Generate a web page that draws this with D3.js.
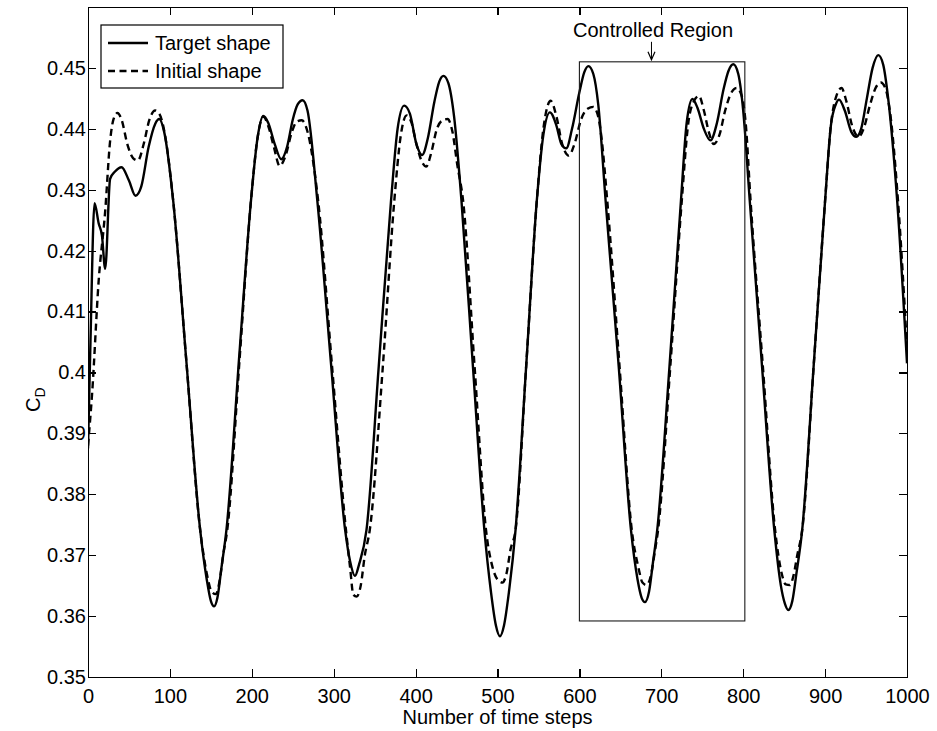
<!DOCTYPE html>
<html lang="en">
<head>
  <meta charset="UTF-8">
  <title>Drag coefficient vs time steps</title>
  <script src="https://d3js.org/d3.v7.min.js"></script>
  <style>
    body {
      margin: 0;
      background: #ffffff;
      font-family: "Liberation Sans", Arial, sans-serif;
    }
    .axis path,
    .axis line {
      stroke: #000;
      stroke-width: 1.2;
      shape-rendering: crispEdges;
    }
    .axis text {
      font-size: 20px;
      fill: #000;
      font-family: "Liberation Sans", Arial, sans-serif;
    }
    .line {
      fill: none;
      stroke: #000;
      stroke-width: 2.4;
      stroke-linejoin: round;
    }
    .dashed {
      stroke-dasharray: 7 4.5;
    }
    .label {
      font-size: 20px;
      fill: #000;
    }
  </style>
</head>
<body>
  <svg width="937" height="731"></svg>

  <script>
    const width = 937;
    const height = 731;
    const margin = { top: 7, right: 30, bottom: 54, left: 88 };

    // Target shape (solid line)
    const targetSteps = [0, 3, 8, 13, 17, 21, 27, 33, 41, 50, 58, 65, 74, 82, 87, 93, 104, 120, 137, 145, 150, 154, 158, 163, 169,
      185, 199, 207, 214, 220, 228, 236, 243, 250, 256, 262, 268, 280, 297, 314, 320, 326, 331, 340, 355, 370, 378, 386,
      393, 401, 408, 415, 423, 429, 434, 440, 447, 456, 470, 484, 492, 498, 503, 508, 514, 522, 535, 548, 556, 564, 572,
      578, 584, 591, 600, 606, 611, 617, 623, 632, 648, 663, 671, 676, 680, 685, 690, 695, 710, 724, 731, 738, 744, 752,
      760, 768, 776, 782, 788, 794, 800, 808, 823, 838, 846, 851, 855, 860, 865, 872, 886, 900, 907, 913, 917, 924, 932,
      938, 944, 951, 958, 965, 971, 977, 988, 1000];
    const targetCd = [0.3875, 0.4050, 0.4278, 0.4245, 0.4225, 0.4170, 0.4318, 0.4330, 0.4337, 0.4315, 0.4290, 0.4305, 0.4370, 0.4408, 0.4416, 0.4395, 0.4282, 0.4020, 0.3741, 0.3660, 0.3625, 0.3616, 0.3630, 0.3680, 0.3741,
      0.4033, 0.4282, 0.4385, 0.4421, 0.4410, 0.4375, 0.4350, 0.4370, 0.4415, 0.4440, 0.4447, 0.4430, 0.4282, 0.4010, 0.3741, 0.3690, 0.3666, 0.3685, 0.3741, 0.4010, 0.4282, 0.4400, 0.4438,
      0.4425, 0.4375, 0.4357, 0.4385, 0.4445, 0.4478, 0.4487, 0.4475, 0.4420, 0.4282, 0.4010, 0.3741, 0.3640, 0.3585, 0.3567, 0.3585, 0.3640, 0.3741, 0.4010, 0.4282, 0.4390, 0.4427, 0.4405,
      0.4375, 0.4368, 0.4400, 0.4460, 0.4493, 0.4503, 0.4490, 0.4440, 0.4282, 0.4010, 0.3741, 0.3660, 0.3630, 0.3623, 0.3640, 0.3690, 0.3741, 0.4010, 0.4282, 0.4410, 0.4449, 0.4435, 0.4400,
      0.4381, 0.4410, 0.4465, 0.4495, 0.4506, 0.4490, 0.4430, 0.4282, 0.4010, 0.3741, 0.3650, 0.3620, 0.3610, 0.3625, 0.3670, 0.3741, 0.4010, 0.4282, 0.4405, 0.4440, 0.4448, 0.4430, 0.4395,
      0.4387, 0.4400, 0.4450, 0.4500, 0.4521, 0.4505, 0.4450, 0.4282, 0.4015];

    // Initial shape (dashed line)
    const initialSteps = [0, 5, 13, 21, 27, 31, 36, 41, 48, 55, 61, 68, 75, 82, 87, 94, 104, 120, 137, 145, 151, 156, 161, 165, 170,
      185, 199, 207, 214, 220, 227, 234, 241, 249, 255, 261, 267, 281, 298, 315, 320, 324, 328, 333, 338, 344, 360, 374,
      382, 389, 395, 401, 408, 413, 419, 426, 433, 439, 445, 451, 458, 472, 486, 494, 500, 506, 511, 516, 522, 535, 548,
      556, 565, 572, 579, 587, 594, 602, 610, 617, 623, 627, 634, 649, 664, 672, 677, 682, 687, 692, 696, 711, 725, 733,
      740, 746, 752, 758, 764, 771, 778, 785, 792, 798, 803, 809, 824, 839, 847, 852, 857, 862, 866, 872, 886, 900, 907,
      914, 920, 926, 933, 941, 947, 955, 962, 968, 974, 979, 989, 1000];
    const initialCd = [0.3880, 0.3965, 0.4150, 0.4265, 0.4380, 0.4415, 0.4426, 0.4415, 0.4375, 0.4352, 0.4348, 0.4375, 0.4415, 0.4430, 0.4425, 0.4390, 0.4282, 0.4020, 0.3741, 0.3670, 0.3640, 0.3636, 0.3660, 0.3700, 0.3741,
      0.4020, 0.4282, 0.4385, 0.4420, 0.4405, 0.4370, 0.4339, 0.4355, 0.4395, 0.4412, 0.4414, 0.4400, 0.4282, 0.4010, 0.3741, 0.3680, 0.3635, 0.3632, 0.3650, 0.3700, 0.3741, 0.4010, 0.4282,
      0.4390, 0.4422, 0.4410, 0.4375, 0.4345, 0.4338, 0.4360, 0.4400, 0.4414, 0.4416, 0.4395, 0.4340, 0.4282, 0.4010, 0.3741, 0.3680, 0.3660, 0.3655, 0.3670, 0.3710, 0.3741, 0.4010, 0.4282,
      0.4400, 0.4446, 0.4420, 0.4375, 0.4356, 0.4375, 0.4415, 0.4433, 0.4436, 0.4420, 0.4385, 0.4282, 0.4010, 0.3741, 0.3680, 0.3655, 0.3651, 0.3665, 0.3705, 0.3741, 0.4010, 0.4282, 0.4410,
      0.4446, 0.4454, 0.4430, 0.4395, 0.4375, 0.4390, 0.4430, 0.4458, 0.4467, 0.4455, 0.4410, 0.4282, 0.4010, 0.3741, 0.3670, 0.3652, 0.3651, 0.3670, 0.3700, 0.3741, 0.4010, 0.4282, 0.4405,
      0.4455, 0.4467, 0.4445, 0.4405, 0.4387, 0.4400, 0.4440, 0.4468, 0.4476, 0.4465, 0.4430, 0.4282, 0.4040];

    const xTicks = [0, 100, 200, 300, 400, 500, 600, 700, 800, 900, 1000];
    const yTicks = [0.35, 0.36, 0.37, 0.38, 0.39, 0.40, 0.41, 0.42, 0.43, 0.44, 0.45];
    const yTickLabels = ["0.35", "0.36", "0.37", "0.38", "0.39", "0.4", "0.41", "0.42", "0.43", "0.44", "0.45"];

    const seriesNames = ["Target shape", "Initial shape"];

    // Controlled region box (steps, C_D) and its label
    const regionSteps = [600, 802];
    const regionCd = [0.3592, 0.4510];
    const regionLabel = "Controlled Region";
    const regionArrowStep = 688;

    const svg = d3.select("svg")
      .attr("width", width)
      .attr("height", height);

    svg.append("rect")
      .attr("width", width)
      .attr("height", height)
      .attr("fill", "#fff");

    const xScale = d3.scaleLinear()
      .domain([0, 1000])
      .range([margin.left, width - margin.right]);

    const yScale = d3.scaleLinear()
      .domain([0.35, 0.46])
      .range([height - margin.bottom, margin.top]);

    // clip for the curves
    svg.append("clipPath")
      .attr("id", "plot-clip")
      .append("rect")
      .attr("x", margin.left)
      .attr("y", margin.top)
      .attr("width", width - margin.left - margin.right)
      .attr("height", height - margin.top - margin.bottom);

    const line = d3.line()
      .x(d => xScale(d[0]))
      .y(d => yScale(d[1]))
      .curve(d3.curveMonotoneX);

    const targetData = targetSteps.map((s, i) => [s, targetCd[i]]);
    const initialData = initialSteps.map((s, i) => [s, initialCd[i]]);

    const plot = svg.append("g").attr("clip-path", "url(#plot-clip)");

    plot.append("path")
      .datum(initialData)
      .attr("class", "line dashed")
      .attr("d", line);

    plot.append("path")
      .datum(targetData)
      .attr("class", "line")
      .attr("d", line);

    // Controlled region box
    svg.append("rect")
      .attr("x", xScale(regionSteps[0]))
      .attr("y", yScale(regionCd[1]))
      .attr("width", xScale(regionSteps[1]) - xScale(regionSteps[0]))
      .attr("height", yScale(regionCd[0]) - yScale(regionCd[1]))
      .attr("fill", "none")
      .attr("stroke", "#1a1a1a")
      .attr("stroke-width", 1.1);

    const arrowX = xScale(regionArrowStep);
    const arrowTip = yScale(regionCd[1]) - 2;
    svg.append("line")
      .attr("x1", arrowX).attr("x2", arrowX)
      .attr("y1", arrowTip - 18).attr("y2", arrowTip)
      .attr("stroke", "#000")
      .attr("stroke-width", 1);
    svg.append("path")
      .attr("d", `M${arrowX - 3.5},${arrowTip - 8} L${arrowX},${arrowTip} L${arrowX + 3.5},${arrowTip - 8}`)
      .attr("fill", "none")
      .attr("stroke", "#000")
      .attr("stroke-width", 1.2);

    svg.append("text")
      .attr("class", "label")
      .attr("x", 653)
      .attr("y", 37)
      .attr("text-anchor", "middle")
      .text(regionLabel);

    // Axes (MATLAB style box, inward ticks)
    svg.append("g")
      .attr("class", "axis")
      .attr("transform", `translate(0,${height - margin.bottom})`)
      .call(d3.axisBottom(xScale).tickValues(xTicks).tickSize(-8).tickSizeOuter(0).tickPadding(12)
        .tickFormat(d3.format("d")));

    svg.append("g")
      .attr("class", "axis")
      .attr("transform", `translate(0,${margin.top})`)
      .call(d3.axisTop(xScale).tickValues(xTicks).tickSize(-8).tickSizeOuter(0).tickFormat(""));

    svg.append("g")
      .attr("class", "axis")
      .attr("transform", `translate(${margin.left},0)`)
      .call(d3.axisLeft(yScale).tickValues(yTicks).tickSize(-8).tickSizeOuter(0).tickPadding(2)
        .tickFormat((d, i) => yTickLabels[i]));

    svg.append("g")
      .attr("class", "axis")
      .attr("transform", `translate(${width - margin.right},0)`)
      .call(d3.axisRight(yScale).tickValues(yTicks).tickSize(-8).tickSizeOuter(0).tickFormat(""));

    // Axis labels
    svg.append("text")
      .attr("class", "label")
      .attr("x", (margin.left + width - margin.right) / 2)
      .attr("y", 724)
      .attr("text-anchor", "middle")
      .text("Number of time steps");

    const yLabel = svg.append("text")
      .attr("class", "label")
      .attr("transform", `translate(40,412) rotate(-90)`)
      .attr("text-anchor", "start");
    yLabel.append("tspan").text("C");
    yLabel.append("tspan")
      .attr("dy", 5)
      .style("font-size", "14px")
      .text("D");

    // Legend
    const legend = svg.append("g").attr("transform", "translate(101,25)");
    legend.append("rect")
      .attr("width", 182)
      .attr("height", 63)
      .attr("fill", "#fff")
      .attr("stroke", "#000")
      .attr("stroke-width", 1.2);

    seriesNames.forEach((name, i) => {
      const y = 18 + i * 28;
      legend.append("line")
        .attr("class", i === 0 ? "line" : "line dashed")
        .attr("x1", 7).attr("x2", 47)
        .attr("y1", y).attr("y2", y);
      legend.append("text")
        .attr("class", "label")
        .attr("x", 54)
        .attr("y", y + 7)
        .text(name);
    });
  </script>
</body>
</html>
